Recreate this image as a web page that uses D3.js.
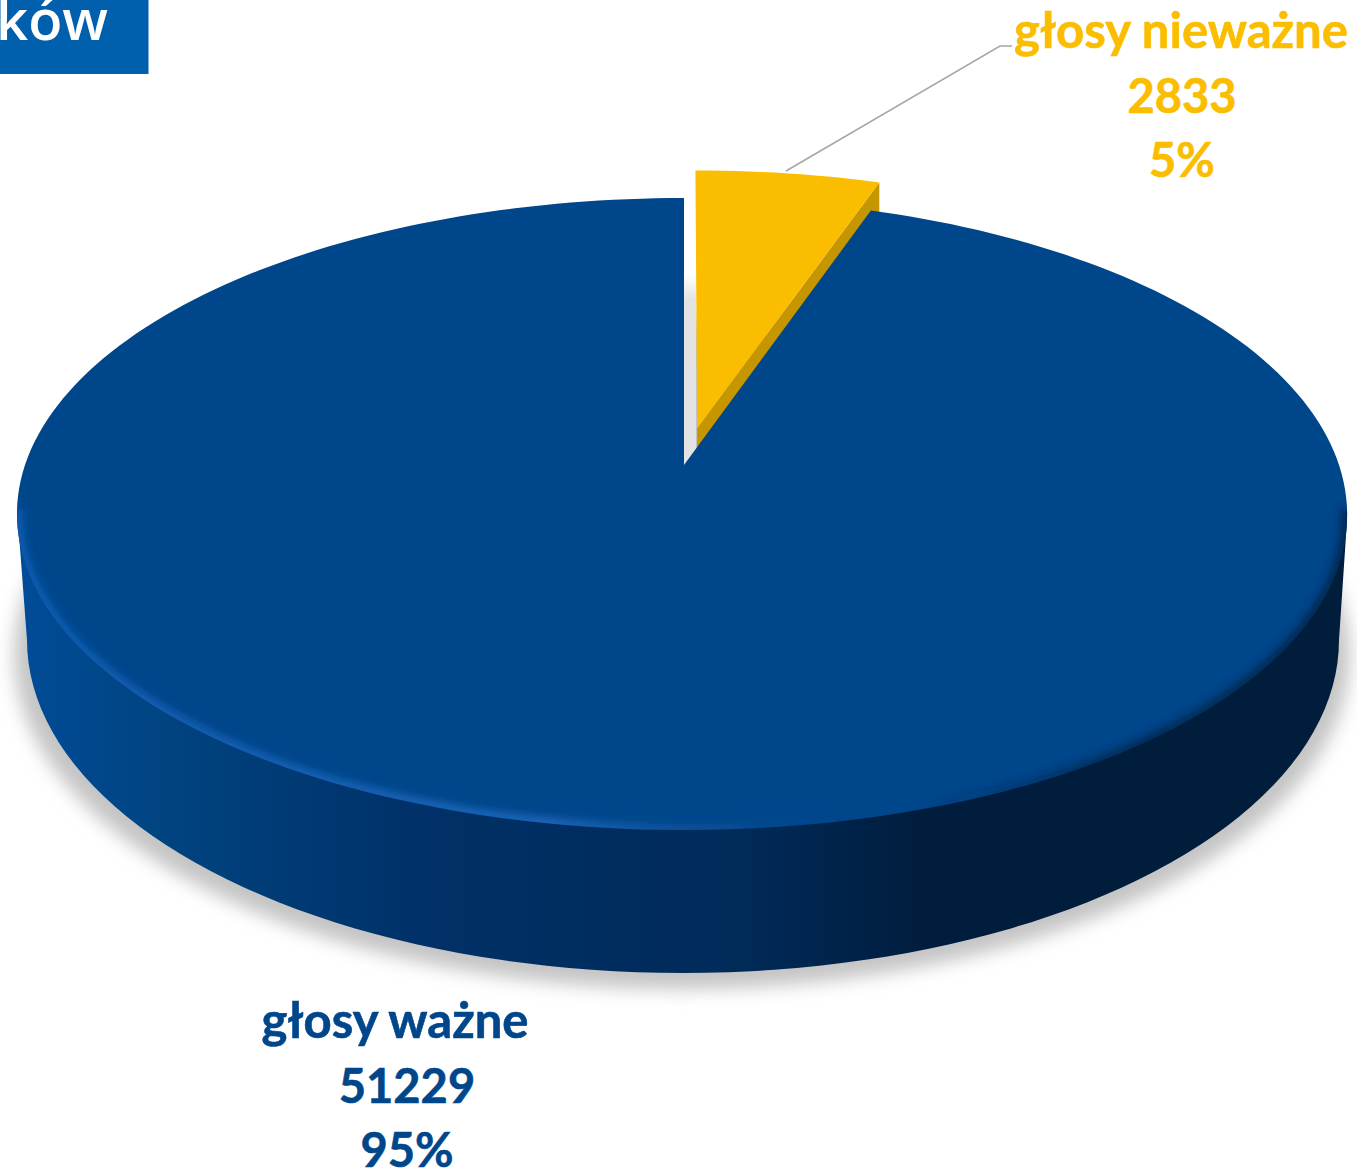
<!DOCTYPE html>
<html><head><meta charset="utf-8">
<script src="https://cdn.jsdelivr.net/npm/d3@7"></script>
<style>html,body{margin:0;background:#fff}svg{display:block}text{font-family:Lato,sans-serif;font-weight:700}</style>
</head><body><div id="c"></div>
<script>
const categories = ["głosy nieważne", "głosy ważne"];
const values = [2833, 51229];
const percents = ["5%", "95%"];
const colors = ["#fbbd00", "#00468b"];
const sideColors = ["#c59600"];
const badgeText = "ków";

const W = 1357, H = 1172;
const svg = d3.select("#c").append("svg").attr("width", W).attr("height", H);
const defs = svg.append("defs");

// perspective mapping of the unit disc onto the page
const apex = [684, 465], persp = 0.155, A = 308.4;
const project = (u, v) => {
  const w = 1 + persp * v, B = u < 0 ? 659 : 655;
  const lens = u > 0 ? 10 * u * Math.max(0, 1 - u) : 0;
  return [apex[0] + B * u / w + lens, apex[1] - A * v / w];
};
const pie = d3.pie().sort(null).value(d => d)(values);
const sliceShape = (p, explode) => {
  const mid = (p.startAngle + p.endAngle) / 2;
  const ox = explode * Math.sin(mid), oy = explode * Math.cos(mid);
  const n = Math.max(8, Math.ceil((p.endAngle - p.startAngle) * 40));
  const pts = [project(ox, oy)];
  d3.range(n + 1).forEach(i => {
    const t = p.startAngle + (p.endAngle - p.startAngle) * i / n;
    pts.push(project(Math.sin(t) + ox, Math.cos(t) + oy));
  });
  return pts;
};
const line = d3.line();

// filters & gradients
const blur = (id, s) => defs.append("filter").attr("id", id)
  .attr("x", "-10%").attr("y", "-10%").attr("width", "120%").attr("height", "120%")
  .append("feGaussianBlur").attr("stdDeviation", s);
blur("shadow", 9); blur("bevel", 4);
const grad = (id, x1, y1, x2, y2, stops) => {
  const g = defs.append("linearGradient").attr("id", id).attr("gradientUnits", "userSpaceOnUse")
    .attr("x1", x1).attr("y1", y1).attr("x2", x2).attr("y2", y2);
  stops.forEach(s => g.append("stop").attr("offset", s[0]).attr("stop-color", s[1]).attr("stop-opacity", s[2] === undefined ? 1 : s[2]));
};
grad("wall", 17, 0, 1347, 0, [[0, "#004c98"], [0.12, "#00437f"], [0.3, "#003168"], [0.55, "#002a58"], [0.68, "#001d3e"], [1, "#001d3b"]]);
grad("bevelG", 17, 0, 1347, 0, [[0, "#0f5cb4"], [0.4, "#2068bc"], [0.55, "#0c5098", 0.5], [0.62, "#00468b", 0], [0.68, "#001d3e", 0], [0.85, "#00264e", 0.9], [1, "#002650"]]);
grad("gapG", 0, 275, 0, 300, [[0, "#e3e3e3", 0], [1, "#e3e3e3"]]);

// top ellipse and bottom ellipse outlines
const topPts = d3.range(0, 361, 2).map(a => {
  const t = a * Math.PI / 180;
  return project(Math.sin(t), Math.cos(t));
});
const bottom = { cx: 683, cy: 640, rx: 656, ry: 333 };
const botArc = d3.range(-90, 91, 2).map(a => {
  const t = a * Math.PI / 180;
  return [bottom.cx + bottom.rx * Math.sin(t), bottom.cy + bottom.ry * Math.cos(t)];
});

// shadow
svg.append("ellipse").attr("cx", 682).attr("cy", 655).attr("rx", 668).attr("ry", 334)
  .attr("fill", "#c4c4c4").attr("filter", "url(#shadow)");

// wall
const leftTip = d3.least(topPts, d => d[0]), rightTip = d3.greatest(topPts, d => d[0]);
svg.append("path").attr("d", line([leftTip, ...botArc, rightTip]) + "Z").attr("fill", "url(#wall)");

// badge
defs.append("clipPath").attr("id", "badgeClip").append("rect").attr("width", 148.5).attr("height", 74);
svg.append("rect").attr("x", 0).attr("y", 0).attr("width", 148.5).attr("height", 74).attr("fill", "#0060ae");
svg.append("g").attr("clip-path", "url(#badgeClip)").append("text").attr("x", 108).attr("y", 39.5).attr("text-anchor", "end")
  .attr("font-size", 56).attr("fill", "#fff").style("font-family", "'Open Sans',sans-serif").style("font-weight", 600).text(badgeText);

// leader line
svg.append("path").attr("d", line([[786, 171], [1000, 46], [1012, 46]]))
  .attr("fill", "none").attr("stroke", "#a6a6a6").attr("stroke-width", 1.5);

// gap wall
svg.append("path").attr("d", line([[684, 275], [696, 275], [696, 450], [684, 467]])).attr("fill", "url(#gapG)");

// exploded slice
const yTop = sliceShape(pie[0], 0.123);
const yEnd = yTop[yTop.length - 1], yApex = yTop[0];
svg.append("path").attr("d", line([yApex, yEnd, [yEnd[0], yEnd[1] + 30], [yApex[0], yApex[1] + 30]]) + "Z").attr("fill", sideColors[0]);
svg.append("path").attr("d", line(yTop) + "Z").attr("fill", colors[0]);

// main slice top face
const bluePts = sliceShape(pie[1], 0);
svg.append("path").attr("d", line(bluePts) + "Z").attr("fill", colors[1]);
defs.append("clipPath").attr("id", "topClip").append("path").attr("d", line(bluePts) + "Z");
const front = topPts.filter(d => d[1] >= 505).sort((a, b) => a[0] - b[0]);
svg.append("g").attr("clip-path", "url(#topClip)").append("path").attr("d", line(front))
  .attr("fill", "none").attr("stroke", "url(#bevelG)").attr("stroke-width", 11).attr("filter", "url(#bevel)");

// labels
const labelData = [
  { i: 0, xs: [1181, 1182, 1182], ys: [48, 113, 177] },
  { i: 1, xs: [395, 407, 407], ys: [1038, 1103, 1167] }
];
labelData.forEach(l => {
  const lines = [categories[l.i], String(values[l.i]), percents[l.i]];
  svg.append("g").selectAll("text").data(lines).join("text")
    .attr("x", (d, j) => l.xs[j]).attr("y", (d, j) => l.ys[j])
    .attr("text-anchor", "middle").attr("font-size", (d, j) => j === 0 ? 49 : 47).attr("fill", colors[l.i])
    .attr("stroke", colors[l.i]).attr("stroke-width", 0.6).text(d => d);
});
</script></body></html>
